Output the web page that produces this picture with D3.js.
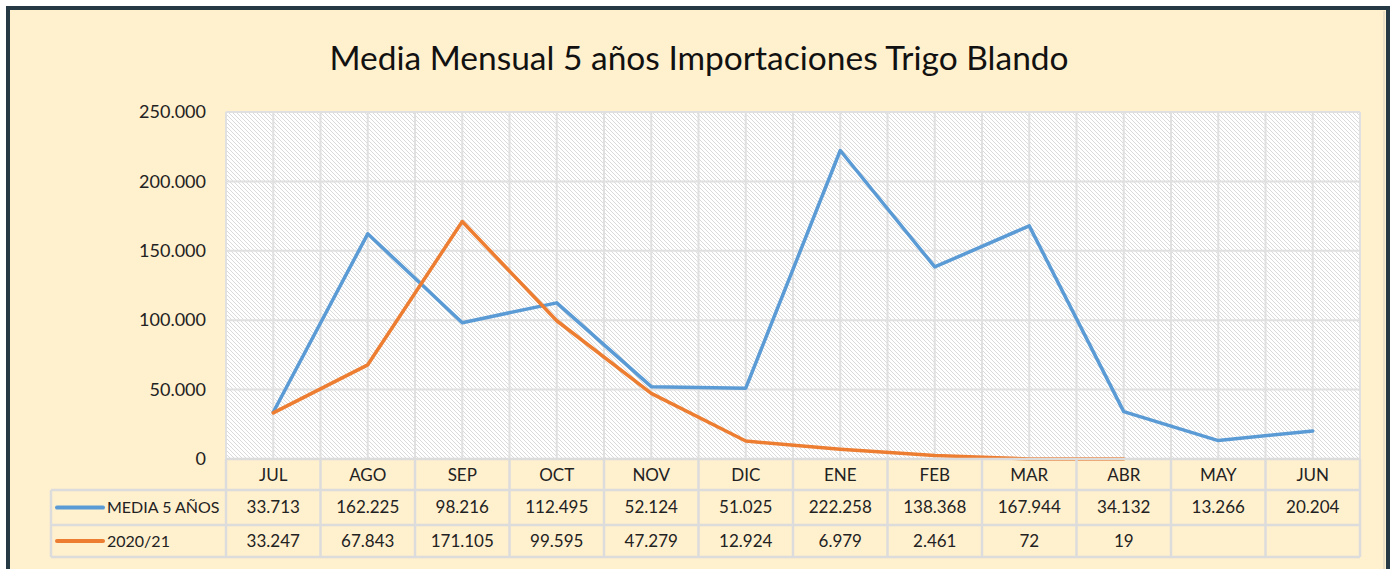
<!DOCTYPE html>
<html><head><meta charset="utf-8">
<script src="https://cdn.jsdelivr.net/npm/d3@7"></script>
<style>body{margin:0;background:#fff}svg{display:block}text{font-family:Lato,"Open Sans",sans-serif;fill:#222}</style>
</head><body><svg id="c" width="1392" height="569"></svg>
<script>
const categories = ["JUL","AGO","SEP","OCT","NOV","DIC","ENE","FEB","MAR","ABR","MAY","JUN"];
const media5 = [33713,162225,98216,112495,52124,51025,222258,138368,167944,34132,13266,20204];
const y2021 = [33247,67843,171105,99595,47279,12924,6979,2461,72,19,null,null];
const seriesNames = ["MEDIA 5 AÑOS","2020/21"];
const yTicks = [0,50000,100000,150000,200000,250000];
const title = "Media Mensual 5 años Importaciones Trigo Blando";

(function(){
const svg = d3.select("#c");
const W=1392,H=569;
const colors=["#5B9BD5","#ED7D31"];
const fmt = v => v==null ? "" : d3.format(",")(v).replace(/,/g,".");

svg.append("rect").attr("x",0).attr("y",0).attr("width",W).attr("height",H).attr("fill","#fff");
svg.append("rect").attr("x",8).attr("y",8).attr("width",1380).attr("height",H).attr("fill","#FFF0CE").attr("stroke","#263A45").attr("stroke-width",4);
svg.append("line").attr("x1",1384).attr("x2",1384).attr("y1",11).attr("y2",H).attr("stroke","#d6d0c0").attr("stroke-width",1);

const defs=svg.append("defs");
const pat=defs.append("pattern").attr("id","hatch").attr("patternUnits","userSpaceOnUse").attr("width",4).attr("height",4);
pat.append("rect").attr("width",4).attr("height",4).attr("fill","#fff");
pat.append("path").attr("d","M-1,-1L5,5M-1,3L1,5M3,-1L5,1").attr("stroke","#dadada").attr("stroke-width",1);

const pL=226,pR=1360,pT=112,pB=459;
const x=d3.scaleBand().domain(categories).range([pL,pR]);
const y=d3.scaleLinear().domain([0,250000]).range([pB,pT]);

svg.append("text").attr("x",699).attr("y",70).attr("text-anchor","middle").style("font-size","33.5px").style("fill","#111").text(title);

svg.append("rect").attr("x",pL).attr("y",pT).attr("width",pR-pL).attr("height",pB-pT).attr("fill","url(#hatch)");

const gridC="#e0e0e0";
const g=svg.append("g");
g.selectAll("line.h").data(yTicks).join("line").attr("x1",pL).attr("x2",pR)
 .attr("y1",d=>y(d)).attr("y2",d=>y(d)).attr("stroke",gridC).attr("stroke-width",2);
const vx=[];categories.forEach(c=>{vx.push(x(c));vx.push(x(c)+x.bandwidth()/2);});vx.push(pR);
g.selectAll("line.v").data(vx).join("line").attr("x1",d=>d).attr("x2",d=>d).attr("y1",pT).attr("y2",pB).attr("stroke",gridC).attr("stroke-width",2);

const yAxis=d3.axisLeft(y).tickValues(yTicks).tickSize(0).tickPadding(20).tickFormat(fmt);
const ya=svg.append("g").attr("transform",`translate(${pL},0)`).call(yAxis);
ya.select(".domain").remove();
ya.selectAll("text").style("font-size","18px").style("font-family","Lato").attr("fill","#222");

const line=d3.line().defined(d=>d.v!=null).x(d=>x(d.c)+x.bandwidth()/2).y(d=>y(d.v));
[media5,y2021].forEach((arr,i)=>{
  svg.append("path").datum(categories.map((c,j)=>({c,v:arr[j]}))).attr("d",line)
   .attr("fill","none").attr("stroke",colors[i]).attr("stroke-width",3.5).attr("stroke-linejoin","round").attr("stroke-linecap","round");
});

const tc="#dcdcdc";
const rowY=[459,490,525,557];
const tleft=51;
const t=svg.append("g");
t.append("line").attr("x1",pL).attr("x2",pR).attr("y1",rowY[0]).attr("y2",rowY[0]).attr("stroke",tc).attr("stroke-width",2.5);
[1,2,3].forEach(k=>t.append("line").attr("x1",tleft).attr("x2",pR).attr("y1",rowY[k]).attr("y2",rowY[k]).attr("stroke",tc).attr("stroke-width",2.5));
const bx=categories.map(c=>x(c)).concat([pR]);
t.selectAll("line.tv").data(bx).join("line").attr("x1",d=>d).attr("x2",d=>d).attr("y1",rowY[0]).attr("y2",rowY[3]).attr("stroke",tc).attr("stroke-width",2.5);
t.append("line").attr("x1",tleft).attr("x2",tleft).attr("y1",rowY[1]).attr("y2",rowY[3]).attr("stroke",tc).attr("stroke-width",2.5);

const xAxis=d3.axisBottom(x).tickSize(0).tickPadding(10);
const xa=svg.append("g").attr("transform",`translate(0,${rowY[0]})`).call(xAxis);
xa.select(".domain").remove();
xa.selectAll("text").style("font-size","17px").style("font-family","Lato").attr("fill","#222");

[media5,y2021].forEach((arr,i)=>{
  const cy=(rowY[i+1]+rowY[i+2])/2;
  t.append("line").attr("x1",57).attr("x2",103).attr("y1",cy).attr("y2",cy).attr("stroke",colors[i]).attr("stroke-width",4).attr("stroke-linecap","round");
  t.append("text").attr("x",107).attr("y",cy).attr("dy","0.35em").style("font-size","16px").text(seriesNames[i]);
  t.selectAll(null).data(categories).join("text").attr("x",c=>x(c)+x.bandwidth()/2).attr("y",cy).attr("dy","0.35em")
   .attr("text-anchor","middle").style("font-size","17px").text((c,j)=>fmt(arr[j]));
});
})();
</script></body></html>
